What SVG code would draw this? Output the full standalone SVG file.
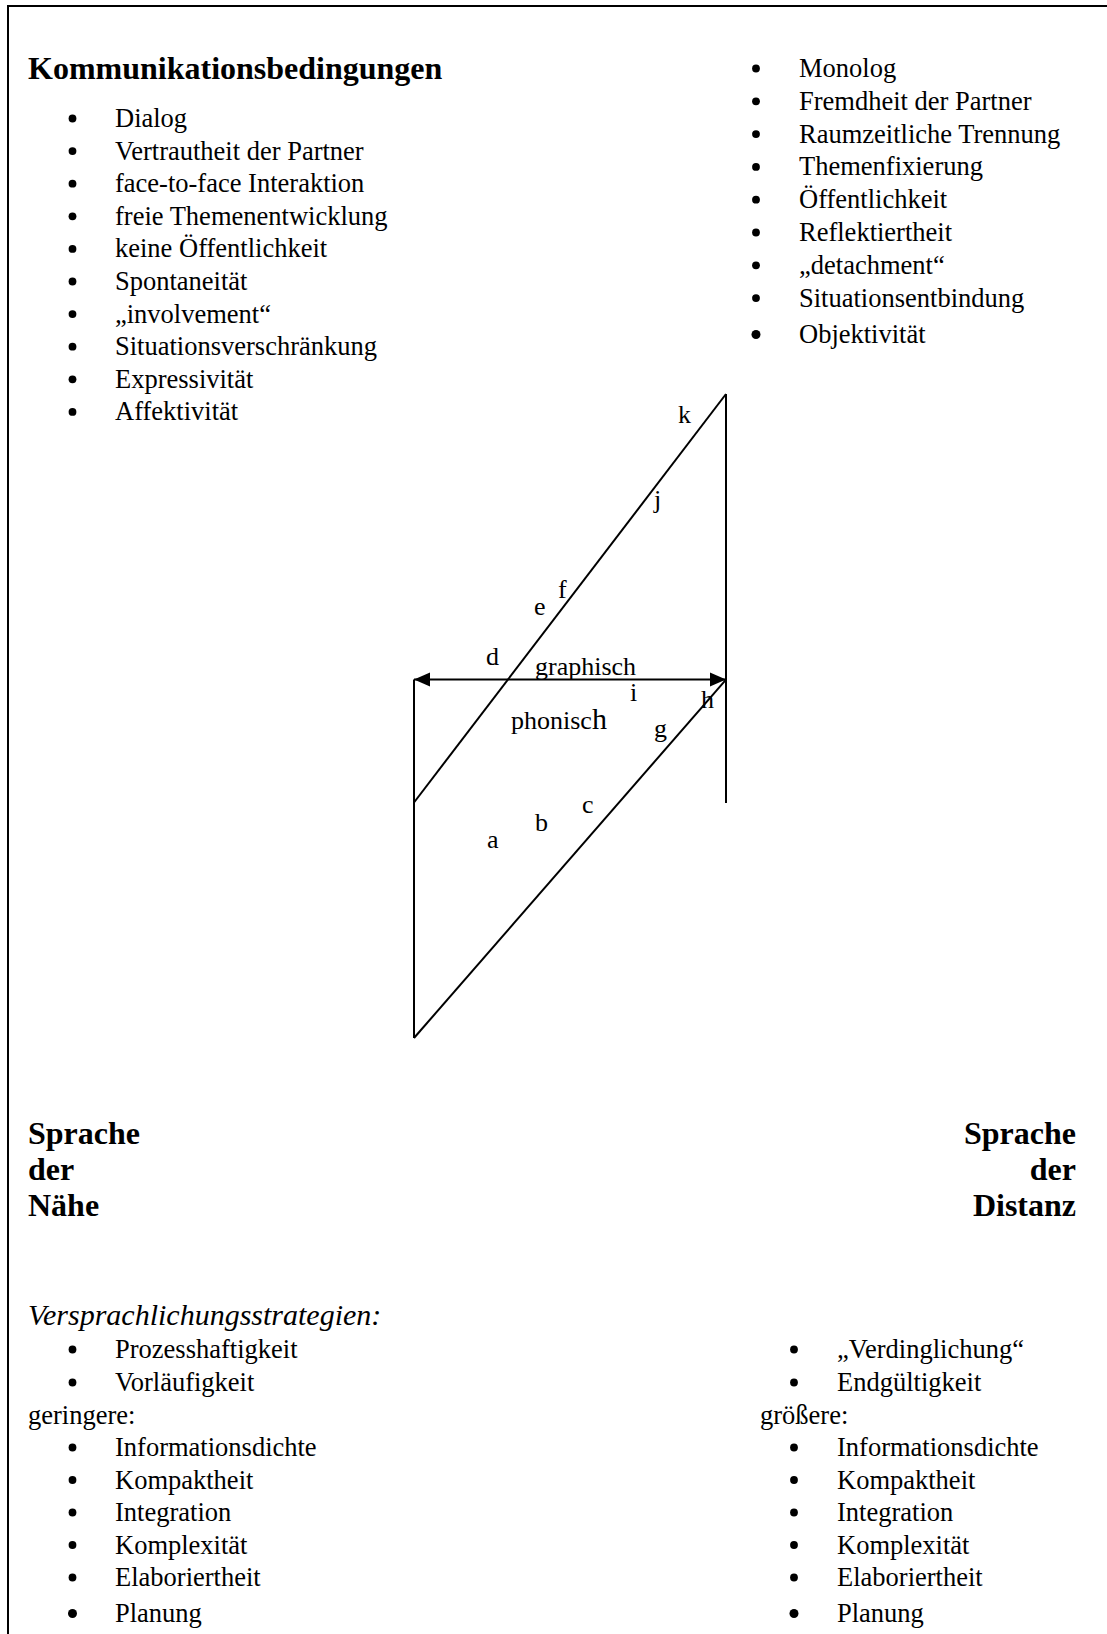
<svg xmlns="http://www.w3.org/2000/svg" width="1107" height="1634" viewBox="0 0 1107 1634">
<style>
text{font-family:"Liberation Serif","Times New Roman",serif;fill:#000}
.it{font-size:26.5px}
.hd{font-size:32px;font-weight:bold}
.em{font-size:30px;font-style:italic}
.lb{font-size:26px}
.ln{stroke:#000;stroke-width:2;fill:none}
</style>
<defs>
<marker id="ah" markerUnits="userSpaceOnUse" markerWidth="18" markerHeight="16" refX="16" refY="7" orient="auto-start-reverse" viewBox="0 0 18 14">
<path d="M0,0 L16,7 L0,14 Z" fill="#000"/>
</marker>
<circle id="b" r="3.9" fill="#000"/>
<circle id="B" r="4.5" fill="#000"/>
</defs>
<rect width="1107" height="1634" fill="#fff"/>
<path class="ln" d="M8,1634 V6 H1107"/>

<g id="kommunikationsbedingungen">
<text class="hd" x="28" y="79">Kommunikationsbedingungen</text>
</g>

<g id="naehe-bedingungen">
<use href="#b" x="72.5" y="118.5"/><text class="it" x="115" y="127">Dialog</text>
<use href="#b" x="72.5" y="151.1"/><text class="it" x="115" y="159.6">Vertrautheit der Partner</text>
<use href="#b" x="72.5" y="183.7"/><text class="it" x="115" y="192.2">face-to-face Interaktion</text>
<use href="#b" x="72.5" y="216.3"/><text class="it" x="115" y="224.8">freie Themenentwicklung</text>
<use href="#b" x="72.5" y="248.9"/><text class="it" x="115" y="257.4">keine Öffentlichkeit</text>
<use href="#b" x="72.5" y="281.5"/><text class="it" x="115" y="290">Spontaneität</text>
<use href="#b" x="72.5" y="314.1"/><text class="it" x="115" y="322.6">„involvement“</text>
<use href="#b" x="72.5" y="346.7"/><text class="it" x="115" y="355.2">Situationsverschränkung</text>
<use href="#b" x="72.5" y="379.3"/><text class="it" x="115" y="387.8">Expressivität</text>
<use href="#b" x="72.5" y="411.9"/><text class="it" x="115" y="420.4">Affektivität</text>
</g>

<g id="distanz-bedingungen">
<use href="#b" x="756" y="68.5"/><text class="it" x="799" y="77">Monolog</text>
<use href="#b" x="756" y="101.3"/><text class="it" x="799" y="109.8">Fremdheit der Partner</text>
<use href="#b" x="756" y="134.1"/><text class="it" x="799" y="142.6">Raumzeitliche Trennung</text>
<use href="#b" x="756" y="166.9"/><text class="it" x="799" y="175.4">Themenfixierung</text>
<use href="#b" x="756" y="199.7"/><text class="it" x="799" y="208.2">Öffentlichkeit</text>
<use href="#b" x="756" y="232.5"/><text class="it" x="799" y="241">Reflektiertheit</text>
<use href="#b" x="756" y="265.3"/><text class="it" x="799" y="273.8">„detachment“</text>
<use href="#b" x="756" y="298.1"/><text class="it" x="799" y="306.6">Situationsentbindung</text>
<use href="#B" x="756" y="334.5"/><text class="it" x="799" y="343">Objektivität</text>
</g>

<g id="connectors">
<line class="ln" x1="726" y1="394" x2="726" y2="803"/>
<line class="ln" x1="726" y1="394" x2="414" y2="802.5"/>
<line class="ln" x1="414" y1="679.6" x2="414" y2="1038"/>
<line class="ln" x1="726" y1="679.6" x2="414" y2="1038"/>
<line class="ln" x1="414" y1="679.6" x2="726" y2="679.6" marker-start="url(#ah)" marker-end="url(#ah)"/>
</g>

<g id="diagram-labels">
<text class="lb" x="678" y="423">k</text>
<text class="lb" x="654" y="508">j</text>
<text class="lb" x="558" y="598">f</text>
<text class="lb" x="534" y="615">e</text>
<text class="lb" x="486" y="665">d</text>
<text class="lb" x="535" y="675">graphisch</text>
<text class="lb" x="630" y="701">i</text>
<text class="lb" x="701" y="708">h</text>
<text class="lb" x="511" y="729">phonisc<tspan font-size="30">h</tspan></text>
<text class="lb" x="654" y="737">g</text>
<text class="lb" x="582" y="813">c</text>
<text class="lb" x="535" y="831">b</text>
<text class="lb" x="487" y="848">a</text>
</g>

<g id="sprache-der-naehe">
<text class="hd" x="28" y="1144">Sprache</text>
<text class="hd" x="28" y="1180">der</text>
<text class="hd" x="28" y="1216">Nähe</text>
</g>

<g id="sprache-der-distanz">
<text class="hd" x="1076" y="1144" text-anchor="end">Sprache</text>
<text class="hd" x="1076" y="1180" text-anchor="end">der</text>
<text class="hd" x="1076" y="1216" text-anchor="end">Distanz</text>
</g>

<g id="naehe-strategien">
<text class="em" x="28" y="1325">Versprachlichungsstrategien:</text>
<use href="#b" x="72.5" y="1349.5"/><text class="it" x="115" y="1358">Prozesshaftigkeit</text>
<use href="#b" x="72.5" y="1382.5"/><text class="it" x="115" y="1391">Vorläufigkeit</text>
<text class="it" x="28" y="1423.5">geringere:</text>
<use href="#b" x="72.5" y="1447.5"/><text class="it" x="115" y="1456">Informationsdichte</text>
<use href="#b" x="72.5" y="1480"/><text class="it" x="115" y="1488.5">Kompaktheit</text>
<use href="#b" x="72.5" y="1512.5"/><text class="it" x="115" y="1521">Integration</text>
<use href="#b" x="72.5" y="1545"/><text class="it" x="115" y="1553.5">Komplexität</text>
<use href="#b" x="72.5" y="1577.5"/><text class="it" x="115" y="1586">Elaboriertheit</text>
<use href="#B" x="72.5" y="1613.5"/><text class="it" x="115" y="1622">Planung</text>
</g>

<g id="distanz-strategien">
<use href="#b" x="794" y="1349.5"/><text class="it" x="837" y="1358">„Verdinglichung“</text>
<use href="#b" x="794" y="1382.5"/><text class="it" x="837" y="1391">Endgültigkeit</text>
<text class="it" x="760" y="1423.5">größere:</text>
<use href="#b" x="794" y="1447.5"/><text class="it" x="837" y="1456">Informationsdichte</text>
<use href="#b" x="794" y="1480"/><text class="it" x="837" y="1488.5">Kompaktheit</text>
<use href="#b" x="794" y="1512.5"/><text class="it" x="837" y="1521">Integration</text>
<use href="#b" x="794" y="1545"/><text class="it" x="837" y="1553.5">Komplexität</text>
<use href="#b" x="794" y="1577.5"/><text class="it" x="837" y="1586">Elaboriertheit</text>
<use href="#B" x="794" y="1613.5"/><text class="it" x="837" y="1622">Planung</text>
</g>
</svg>
